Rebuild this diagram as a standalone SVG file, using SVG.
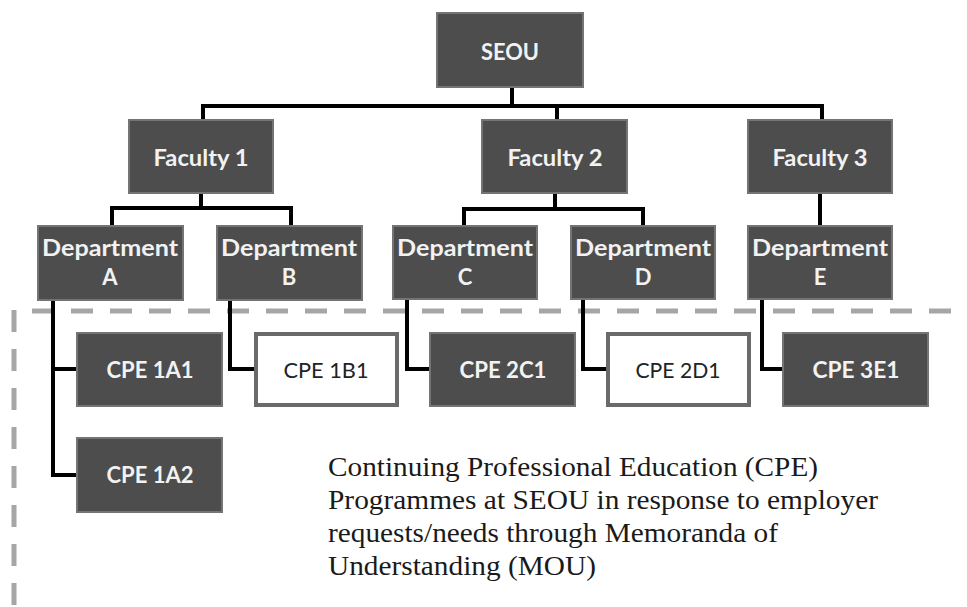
<svg xmlns="http://www.w3.org/2000/svg" width="967" height="607" viewBox="0 0 967 607">
<style>
.box{fill:#4d4d4d;stroke:#747474;stroke-width:2}
.wbox{fill:#ffffff;stroke:#6a6a6a;stroke-width:4}
.lbl{font-family:Lato,"Open Sans","DejaVu Sans",sans-serif;font-weight:bold;font-size:22px;fill:#f2f2f2;text-anchor:middle}
.wlbl{font-family:Lato,"Open Sans","DejaVu Sans",sans-serif;font-size:22px;fill:#222;text-anchor:middle}
.conn{fill:none;stroke:#000;stroke-width:4;stroke-linejoin:miter}
.dash{fill:none;stroke:#a6a6a6;stroke-width:5;stroke-dasharray:22 17}
.body{font-family:"Liberation Serif","Times New Roman",serif;font-size:27px;fill:#1a1a1a}
</style>
<rect width="967" height="607" fill="#fff"/>
<g id="boundary">
<path class="dash" d="M32 311 H967"/>
<path class="dash" d="M14 310 V607"/>
</g>
<g id="connectors">
<path class="conn" d="M512 87 V106"/>
<path class="conn" d="M203 120 V106 H822 V120"/>
<path class="conn" d="M557 106 V120"/>
<path class="conn" d="M201 193 V208"/>
<path class="conn" d="M112 226 V208 H291 V226"/>
<path class="conn" d="M555 193 V209"/>
<path class="conn" d="M464 226 V209 H643 V226"/>
<path class="conn" d="M820 193 V226"/>
<path class="conn" d="M53 300 V475 H77"/>
<path class="conn" d="M53 369 H77"/>
<path class="conn" d="M230 300 V369 H255"/>
<path class="conn" d="M407 300 V369 H430"/>
<path class="conn" d="M583 300 V369 H607"/>
<path class="conn" d="M762 300 V369 H783"/>
</g>
<g id="seou"><rect class="box" x="437" y="13" width="146" height="74"/><text class="lbl" x="510" y="60" textLength="58" lengthAdjust="spacingAndGlyphs">SEOU</text></g>
<g id="faculty1"><rect class="box" x="129" y="120" width="144" height="73"/><text class="lbl" x="201" y="166" textLength="95" lengthAdjust="spacingAndGlyphs">Faculty 1</text></g>
<g id="faculty2"><rect class="box" x="482" y="120" width="145" height="73"/><text class="lbl" x="555" y="166" textLength="95" lengthAdjust="spacingAndGlyphs">Faculty 2</text></g>
<g id="faculty3"><rect class="box" x="748" y="120" width="144" height="73"/><text class="lbl" x="820" y="166" textLength="95" lengthAdjust="spacingAndGlyphs">Faculty 3</text></g>
<g id="deptA"><rect class="box" x="38" y="226" width="145" height="74"/><text class="lbl" x="110" y="256" textLength="136" lengthAdjust="spacingAndGlyphs">Department</text><text class="lbl" x="110" y="285">A</text></g>
<g id="deptB"><rect class="box" x="217" y="226" width="145" height="74"/><text class="lbl" x="289" y="256" textLength="136" lengthAdjust="spacingAndGlyphs">Department</text><text class="lbl" x="289" y="285">B</text></g>
<g id="deptC"><rect class="box" x="393" y="226" width="144" height="73"/><text class="lbl" x="465" y="256" textLength="136" lengthAdjust="spacingAndGlyphs">Department</text><text class="lbl" x="465" y="285">C</text></g>
<g id="deptD"><rect class="box" x="571" y="226" width="144" height="73"/><text class="lbl" x="643" y="256" textLength="136" lengthAdjust="spacingAndGlyphs">Department</text><text class="lbl" x="643" y="285">D</text></g>
<g id="deptE"><rect class="box" x="748" y="226" width="144" height="73"/><text class="lbl" x="820" y="256" textLength="136" lengthAdjust="spacingAndGlyphs">Department</text><text class="lbl" x="820" y="285">E</text></g>
<g id="cpe1a1"><rect class="box" x="77" y="333" width="145" height="73"/><text class="lbl" x="150" y="378" textLength="87" lengthAdjust="spacingAndGlyphs">CPE 1A1</text></g>
<g id="cpe1a2"><rect class="box" x="77" y="438" width="145" height="74"/><text class="lbl" x="150" y="483" textLength="87" lengthAdjust="spacingAndGlyphs">CPE 1A2</text></g>
<g id="cpe1b1"><rect class="wbox" x="256" y="334" width="141" height="71"/><text class="wlbl" x="326" y="378" textLength="85" lengthAdjust="spacingAndGlyphs">CPE 1B1</text></g>
<g id="cpe2c1"><rect class="box" x="430" y="333" width="145" height="73"/><text class="lbl" x="503" y="378" textLength="87" lengthAdjust="spacingAndGlyphs">CPE 2C1</text></g>
<g id="cpe2d1"><rect class="wbox" x="608" y="334" width="141" height="71"/><text class="wlbl" x="678" y="378" textLength="85" lengthAdjust="spacingAndGlyphs">CPE 2D1</text></g>
<g id="cpe3e1"><rect class="box" x="783" y="333" width="145" height="73"/><text class="lbl" x="856" y="378" textLength="87" lengthAdjust="spacingAndGlyphs">CPE 3E1</text></g>
<g id="caption">
<text class="body" x="328" y="476" textLength="490" lengthAdjust="spacingAndGlyphs">Continuing Professional Education (CPE)</text>
<text class="body" x="328" y="509" textLength="550" lengthAdjust="spacingAndGlyphs">Programmes at SEOU in response to employer</text>
<text class="body" x="328" y="542" textLength="450" lengthAdjust="spacingAndGlyphs">requests/needs through Memoranda of</text>
<text class="body" x="328" y="575" textLength="268" lengthAdjust="spacingAndGlyphs">Understanding (MOU)</text>
</g>
</svg>
